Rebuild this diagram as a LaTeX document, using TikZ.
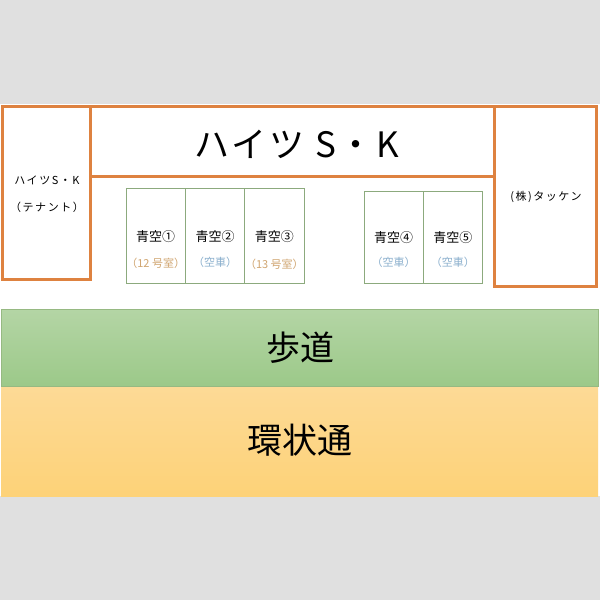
\documentclass[tikz,border=0pt]{standalone}
\usepackage{fontspec}
\newfontfamily\jp{Noto Sans CJK JP}
\newfontfamily\jpsp{Noto Sans CJK JP}[LetterSpace=14]
\newfontfamily\jpti{Noto Sans CJK JP}[LetterSpace=8]
\definecolor{bggray}{RGB}{224,224,224}
\definecolor{bldg}{RGB}{222,130,64}
\definecolor{stallc}{RGB}{140,170,125}
\definecolor{walktop}{RGB}{180,213,165}
\definecolor{walkbot}{RGB}{156,201,137}
\definecolor{walkedge}{RGB}{150,185,130}
\definecolor{roadtop}{RGB}{253,218,150}
\definecolor{roadbot}{RGB}{253,210,120}
\definecolor{tanc}{RGB}{208,165,112}
\definecolor{bluec}{RGB}{138,175,205}
\tikzset{
  bldgbox/.style={draw=bldg, line width=3pt, fill=white, inner sep=0pt},
  stallbox/.style={draw=stallc, line width=0.8pt, fill=white},
  lbl/.style={font=\jp, text=black, inner sep=0pt},
}
\begin{document}
\begin{tikzpicture}[x=1pt,y=-1pt]
\useasboundingbox (0,0) rectangle (600,600);
\fill[bggray] (0,0) rectangle (600,600);
\fill[white] (0,104) rectangle (600,496);
% road & walk
\shade[top color=roadtop, bottom color=roadbot] (1,386) rectangle (598,496);
\shade[top color=walktop, bottom color=walkbot] (1,309) rectangle (598,386);
\draw[walkedge, line width=0.6pt] (1,309) rectangle (598,386);
% buildings
\draw[bldgbox] (2.5,106) rectangle (90,279.5);
\draw[bldgbox] (90,106) rectangle (494,176.5);
\draw[bldgbox] (494,106) rectangle (596,286.5);
% stalls
\foreach \xa/\xb/\ya in {126/185.5/188.5,185.5/244.7/188.5,244.7/304/188.5,364/423.3/191.5,423.3/482.3/191.5}{
  \draw[stallbox] (\xa,\ya) rectangle (\xb,283.7);
}
% texts
\node[lbl, font=\jpti\fontsize{35}{37}\selectfont] (title) at (297,144) {ハイツ S・K};
\node[lbl, font=\jpsp\fontsize{11}{13}\selectfont] (tenant1) at (47,180) {ハイツS・K};
\node[lbl, font=\jpsp\fontsize{11}{13}\selectfont] (tenant2) at (47,207) {（テナント）};
\node[lbl, font=\jpsp\fontsize{11}{13}\selectfont] (takken) at (546,196.5) {(株)タッケン};
\node[lbl, font=\jp\fontsize{13}{15}\selectfont] (s1) at (155.7,237) {青空①};
\node[lbl, font=\jp\fontsize{13}{15}\selectfont] (s2) at (215.1,237) {青空②};
\node[lbl, font=\jp\fontsize{13}{15}\selectfont] (s3) at (274.4,237) {青空③};
\node[lbl, font=\jp\fontsize{13}{15}\selectfont] (s4) at (393.7,238) {青空④};
\node[lbl, font=\jp\fontsize{13}{15}\selectfont] (s5) at (452.8,238) {青空⑤};
\node[lbl, text=tanc, font=\jp\fontsize{11}{13}\selectfont] (n1) at (155.7,263) {（12 号室）};
\node[lbl, text=bluec, font=\jp\fontsize{11}{13}\selectfont] (n2) at (215.1,262) {（空車）};
\node[lbl, text=tanc, font=\jp\fontsize{11}{13}\selectfont] (n3) at (274.4,264) {（13 号室）};
\node[lbl, text=bluec, font=\jp\fontsize{11}{13}\selectfont] (n4) at (393.7,262) {（空車）};
\node[lbl, text=bluec, font=\jp\fontsize{11}{13}\selectfont] (n5) at (452.8,262) {（空車）};
\node[lbl, font=\jp\fontsize{34}{36}\selectfont] (walk) at (300,348) {歩道};
\node[lbl, font=\jp\fontsize{35}{37}\selectfont] (road) at (300,440) {環状通};
\end{tikzpicture}
\end{document}
